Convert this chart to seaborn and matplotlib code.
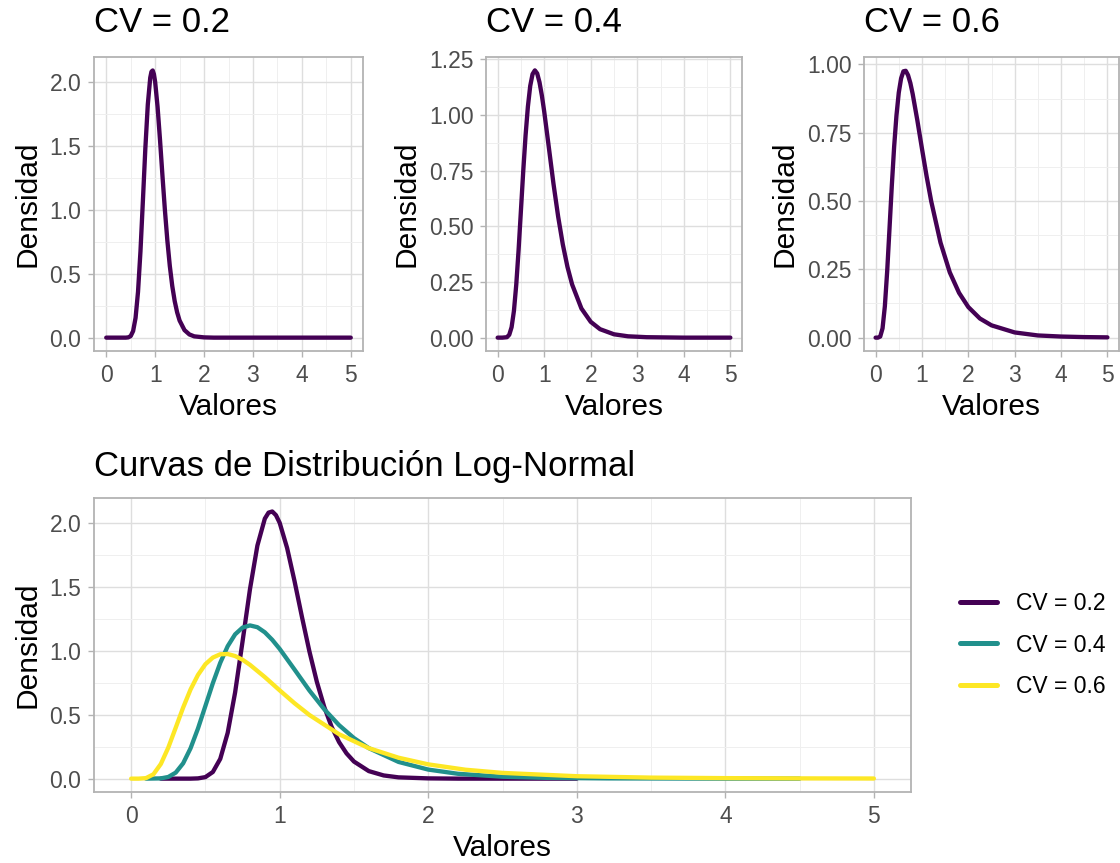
import numpy as np
import pandas as pd
import matplotlib
matplotlib.use("Agg")
import matplotlib.pyplot as plt
import seaborn as sns
from matplotlib.ticker import MultipleLocator

# valeurs (densité log-normale, moyenne 1)
cv_labels = ["CV = 0.2", "CV = 0.4", "CV = 0.6"]
cv_colors = ["#440154", "#21908C", "#FDE725"]

x_cv02 = [0, 0.2, 0.4, 0.45, 0.5, 0.55, 0.6, 0.65, 0.7, 0.75, 0.8, 0.85, 0.9, 0.925, 0.95, 0.975, 1.0,
          1.05, 1.1, 1.15, 1.2, 1.25, 1.3, 1.35, 1.4, 1.45, 1.5, 1.6, 1.7, 1.8, 2.0, 2.2,
          2.5, 3.0, 3.5, 4.0, 4.5, 5.0]
y_cv02 = [0, 0, 0.000, 0.002, 0.012, 0.052, 0.155, 0.359, 0.676, 1.075, 1.485, 1.827, 2.038, 2.085, 2.094, 2.065, 2.005,
          1.808, 1.548, 1.267, 0.998, 0.760, 0.562, 0.405, 0.286, 0.198, 0.134, 0.059, 0.025, 0.010, 0.002, 0.000,
          0, 0, 0, 0, 0, 0]

x_cv04 = [0, 0.1, 0.2, 0.25, 0.3, 0.35, 0.4, 0.45, 0.5, 0.55, 0.6, 0.65, 0.7, 0.75, 0.8, 0.85, 0.9, 0.95, 1.0,
          1.1, 1.2, 1.3, 1.4, 1.5, 1.6, 1.8, 2.0, 2.2, 2.5, 2.8, 3.2, 3.6, 4.0, 4.5, 5.0]
y_cv04 = [0, 0.000, 0.002, 0.013, 0.047, 0.120, 0.238, 0.393, 0.570, 0.748, 0.908, 1.038, 1.131, 1.184, 1.201, 1.187, 1.147, 1.088, 1.017,
          0.855, 0.691, 0.544, 0.419, 0.318, 0.239, 0.131, 0.071, 0.038, 0.015, 0.006, 0.002, 0.001, 0.000, 0, 0]

x_cv06 = [0, 0.05, 0.1, 0.15, 0.2, 0.25, 0.3, 0.35, 0.4, 0.45, 0.5, 0.55, 0.6, 0.65, 0.7, 0.75, 0.8, 0.9, 1.0,
          1.1, 1.2, 1.4, 1.6, 1.8, 2.0, 2.25, 2.5, 3.0, 3.5, 4.0, 4.5, 5.0]
y_cv06 = [0, 0.000, 0.004, 0.034, 0.115, 0.243, 0.399, 0.557, 0.699, 0.813, 0.897, 0.949, 0.975, 0.977, 0.961, 0.932, 0.892, 0.796, 0.692,
          0.591, 0.499, 0.348, 0.239, 0.164, 0.112, 0.070, 0.045, 0.019, 0.008, 0.004, 0.002, 0.001]

# étendue des courbes dans le graphique combiné
x_min_combined = [0.2, 0.1, 0.0]
x_max_combined = [3.2, 4.5, 5.0]

curves = [(x_cv02, y_cv02), (x_cv04, y_cv04), (x_cv06, y_cv06)]

sns.set_theme(style="whitegrid")
plt.rcParams['font.family'] = ['Liberation Sans', 'DejaVu Sans']

fig = plt.figure(figsize=(11.2, 8.63), dpi=100)
W, H = 1120, 863


def px_axes(left, top, right, bottom):
    return fig.add_axes([left / W, 1 - bottom / H, (right - left) / W, (bottom - top) / H])


def style_axes(ax, ymax, ystep, yfmt):
    ax.set_facecolor("white")
    ax.set_xlim(-0.25, 5.25)
    ax.set_ylim(-0.05 * ymax, ymax * 1.05)
    ax.xaxis.set_major_locator(MultipleLocator(1))
    ax.xaxis.set_minor_locator(MultipleLocator(0.5))
    ax.yaxis.set_major_locator(MultipleLocator(ystep))
    ax.yaxis.set_minor_locator(MultipleLocator(ystep / 2))
    ax.yaxis.set_major_formatter(matplotlib.ticker.FormatStrFormatter(yfmt))
    ax.grid(which="major", color="#DEDEDE", linewidth=1.0)
    ax.grid(which="minor", color="#EFEFEF", linewidth=0.7)
    ax.set_axisbelow(True)
    for s in ax.spines.values():
        s.set_visible(True)
        s.set_color("#B3B3B3")
        s.set_linewidth(1.3)
    ax.tick_params(which="major", length=4, width=1, color="#B3B3B3",
                   labelsize=16.5, labelcolor="#4D4D4D", pad=5, bottom=True, left=True)
    ax.tick_params(which="minor", length=0)
    ax.set_xlabel("Valores", fontsize=21.5, color="black", labelpad=5)
    ax.set_ylabel("Densidad", fontsize=21.5, color="black", labelpad=6)


top_boxes = [(94, 57, 363, 351), (486, 57, 742, 351), (864, 57, 1119, 351)]
top_ymax = [2.095, 1.201, 0.9785]
top_ystep = [0.5, 0.25, 0.25]
top_fmt = ["%.1f", "%.2f", "%.2f"]

for i, (xs, ys) in enumerate(curves):
    ax = px_axes(*top_boxes[i])
    df = pd.DataFrame({"x": xs, "y": ys})
    sns.lineplot(data=df, x="x", y="y", ax=ax, color=cv_colors[0], linewidth=3.1)
    style_axes(ax, top_ymax[i], top_ystep[i], top_fmt[i])
    ax.set_title(cv_labels[i], loc="left", fontsize=25, pad=18, color="black")

# graphique combiné
rows = []
for i, (xs, ys) in enumerate(curves):
    for xv, yv in zip(xs, ys):
        if x_min_combined[i] <= xv <= x_max_combined[i]:
            rows.append({"x": xv, "y": yv, "cv": cv_labels[i]})
df_all = pd.DataFrame(rows)

ax = px_axes(94, 498, 911, 792)
sns.lineplot(data=df_all, x="x", y="y", hue="cv", hue_order=cv_labels,
             palette=cv_colors, ax=ax, linewidth=3.1, sort=True)
style_axes(ax, 2.095, 0.5, "%.1f")
ax.set_title("Curvas de Distribución Log-Normal", loc="left", fontsize=25, pad=16, color="black")
sns.move_legend(ax, "center left", bbox_to_anchor=(1.035, 0.5), title=None,
                frameon=False, fontsize=16.5, handlelength=1.6, handletextpad=0.85,
                labelspacing=0.8)
for line in ax.get_legend().get_lines():
    line.set_linewidth(3.6)
for t in ax.get_legend().get_texts():
    t.set_color("black")

fig.savefig("out.png", dpi=100)
